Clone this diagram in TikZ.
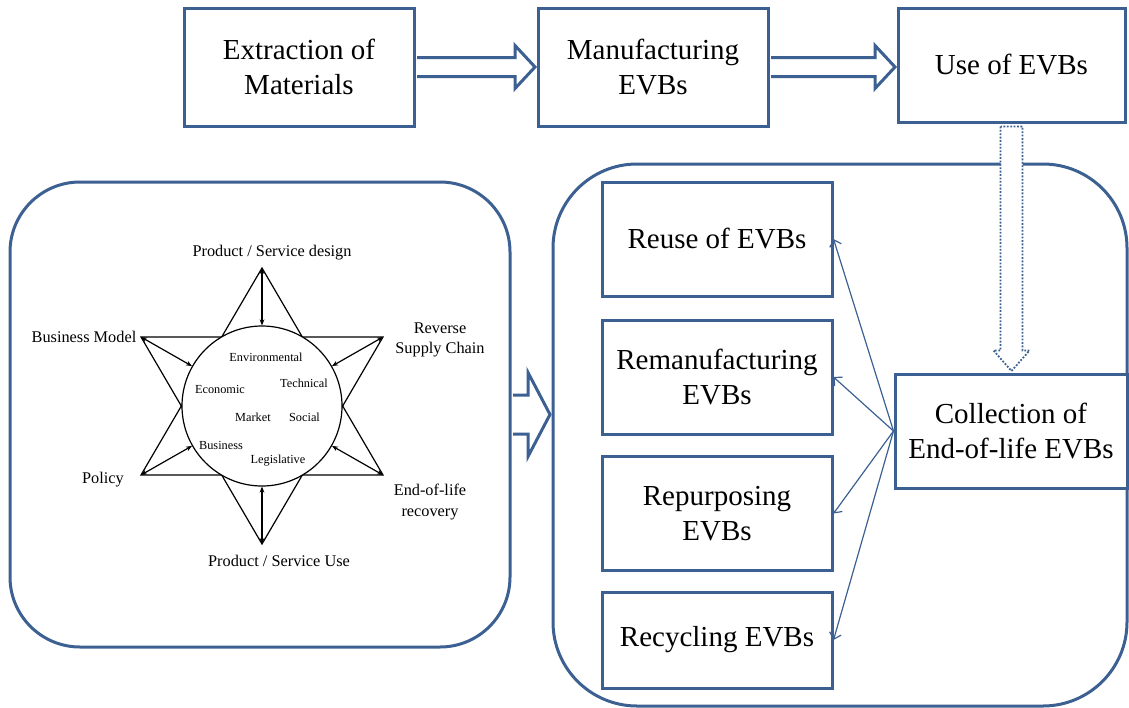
\documentclass[tikz,border=0pt]{standalone}
\usepackage{fontspec}
\setmainfont{Liberation Serif}
\usepackage{tikz}
\usetikzlibrary{arrows.meta, calc}
\definecolor{boxblue}{RGB}{60,96,146}

\begin{document}
\begin{tikzpicture}[
    x=0.5pt, y=-0.5pt,
    stage/.style={draw=boxblue, line width=1.5pt, fill=white, minimum width=115pt, minimum height=57pt, align=center, font=\fontsize{14.5}{17.4}\selectfont},
    panel/.style={draw=boxblue, line width=1.5pt, rounded corners=35pt},
    blockarr/.style={draw=boxblue, line width=1.5pt, fill=white, line join=miter},
    dotarr/.style={draw=boxblue, line width=0.9pt, dash pattern=on 0.9pt off 0.8pt, fill=white},
    fan/.style={-{Straight Barb[length=3pt,width=6pt]}, boxblue, line width=0.6pt},
    link/.style={{Stealth[length=3pt,width=2.4pt]}-{Stealth[length=3pt,width=2.4pt]}, line width=0.6pt},
    outer/.style={font=\fontsize{8.15}{10.2}\selectfont, align=center},
    inner/.style={font=\fontsize{6.15}{7.4}\selectfont}
]
    \useasboundingbox (0,0) rectangle (1129,707);

    % Life cycle stages
    \node[stage, minimum height=59pt] (extract) at (299,67) {Extraction of\\Materials};
    \node[stage, minimum height=59pt] (manuf) at (653,67) {Manufacturing\\EVBs};
    \node[stage, minimum width=113.5pt] (use) at (1011.5,65) {Use of EVBs};

    \draw[blockarr] let \p1=(extract.east), \p2=(manuf.west) in
        (\x1+0.75pt,\y1+4.75pt) -- (\x2-10.75pt,\y1+4.75pt) -- (\x2-10.75pt,\y1+10.75pt) -- (\x2-0.75pt,\y1)
        -- (\x2-10.75pt,\y1-10.75pt) -- (\x2-10.75pt,\y1-4.75pt) -- (\x1+0.75pt,\y1-4.75pt);
    \draw[blockarr] let \p1=(manuf.east), \p2=(use.west) in
        (\x1+0.75pt,\y1+4.75pt) -- (\x2-10.75pt,\y1+4.75pt) -- (\x2-10.75pt,\y1+10.75pt) -- (\x2-0.75pt,\y1)
        -- (\x2-10.75pt,\y1-10.75pt) -- (\x2-10.75pt,\y1-4.75pt) -- (\x1+0.75pt,\y1-4.75pt);

    % Panels
    \node[panel, minimum width=250pt, minimum height=232.5pt] (framework) at (260,414.5) {};
    \node[panel, rounded corners=42pt, minimum width=287pt, minimum height=271pt] (eolbox) at (840,435) {};

    \draw[blockarr] let \p1=(framework.east), \p2=(eolbox.west) in
        (\x1+0.75pt,\y1+9.75pt) -- (\x2-11.75pt,\y1+9.75pt) -- (\x2-11.75pt,\y1+21pt) -- (\x2-0.75pt,\y1)
        -- (\x2-11.75pt,\y1-21pt) -- (\x2-11.75pt,\y1-9.75pt) -- (\x1+0.75pt,\y1-9.75pt);

    % End-of-life options
    \node[stage, minimum width=116pt] (collect) at (1011,431) {Collection of\\End-of-life EVBs};
    \node[stage] (reuse) at (717,239) {Reuse of EVBs};
    \node[stage] (reman) at (717,377) {Remanufacturing\\EVBs};
    \node[stage] (repurp) at (717,513.5) {Repurposing\\EVBs};
    \node[stage, minimum height=48pt] (recyc) at (717,640) {Recycling EVBs};

    \draw[dotarr] let \p1=(use.south), \p2=(collect.north) in
        (\x1-5.5pt,\y1-1.5pt) -- (\x1-5.5pt,\y2+11pt) -- (\x1-9pt,\y2+11pt) -- (\x1,\y2+0.75pt)
        -- (\x1+9pt,\y2+11pt) -- (\x1+5.5pt,\y2+11pt) -- (\x1+5.5pt,\y1-1.5pt) -- cycle;

    \draw[fan] (collect.west) -- (reuse.east);
    \draw[fan] (collect.west) -- (reman.east);
    \draw[fan] (collect.west) -- (repurp.east);
    \draw[fan] (collect.west) -- (recyc.east);

    % Star framework
    \coordinate (sdesign) at (262,268);
    \coordinate (suse) at (262,544);
    \coordinate (sbm) at (141,337);
    \coordinate (srsc) at (383,337);
    \coordinate (spol) at (141,475);
    \coordinate (seol) at (383,475);
    \draw[line width=0.6pt] (sdesign) -- (spol) -- (seol) -- cycle;
    \draw[line width=0.6pt] (suse) -- (sbm) -- (srsc) -- cycle;
    \node[draw, circle, fill=white, minimum size=80pt, inner sep=0pt, line width=0.6pt] (core) at (262,406) {};
    \draw[link] (sdesign) -- (core);
    \draw[link] (suse) -- (core);
    \draw[link] (sbm) -- (core);
    \draw[link] (srsc) -- (core);
    \draw[link] (spol) -- (core);
    \draw[link] (seol) -- (core);

    \node[outer] (ldesign) at (272,253) {Product / Service design};
    \node[outer] (luse) at (279,561) {Product / Service Use};
    \node[outer] (lbm) at (84,336.5) {Business Model};
    \node[outer] (lrsc) at (440,340) {Reverse\\Supply Chain};
    \node[outer] (lpol) at (103,480) {Policy};
    \node[outer] (leol) at (430,502) {End-of-life\\recovery};

    \node[inner] (env) at (266,357) {Environmental};
    \node[inner] (econ) at (220,389) {Economic};
    \node[inner] (tech) at (304,383.5) {Technical};
    \node[inner] (market) at (253,417) {Market};
    \node[inner] (social) at (304.5,417.6) {Social};
    \node[inner] (business) at (221,445.5) {Business};
    \node[inner] (legis) at (278,461) {Legislative};
\end{tikzpicture}
\end{document}
